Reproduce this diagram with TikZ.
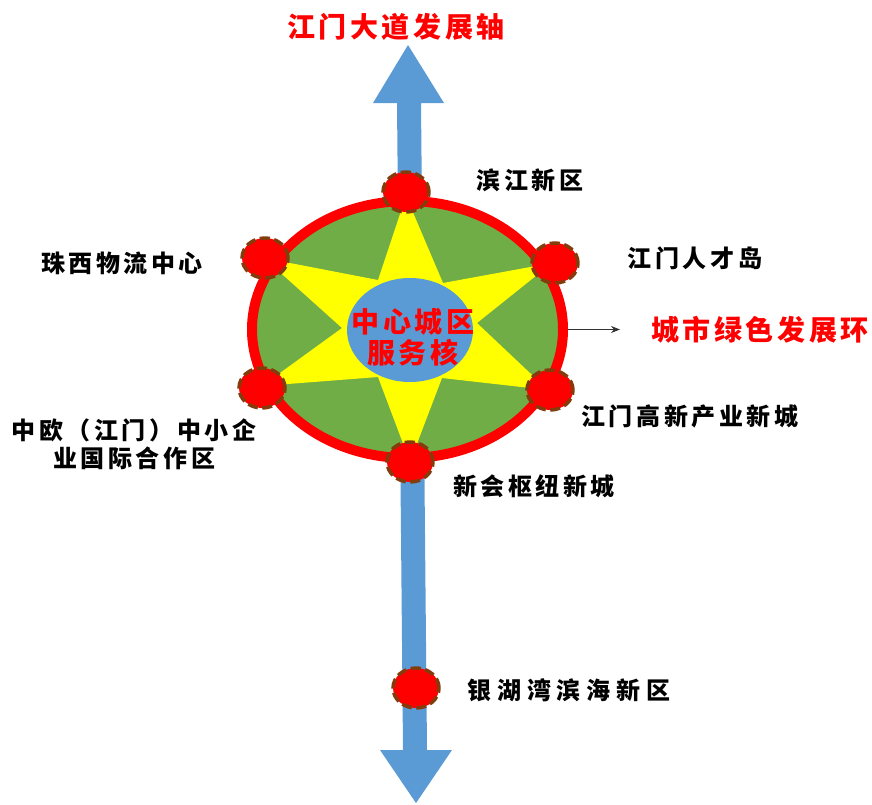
\documentclass[tikz,border=0pt]{standalone}
\usepackage{fontspec}
\newfontfamily\cjk{Noto Sans CJK SC}
\usetikzlibrary{shapes.geometric,arrows.meta}
\definecolor{axisblue}{HTML}{5B9BD5}
\definecolor{ringgreen}{HTML}{70AD47}
\definecolor{staryellow}{HTML}{FFFF00}
\definecolor{hotred}{HTML}{FF0000}
\definecolor{dashbrown}{HTML}{843C0C}
\tikzset{
  hub/.style={ellipse, minimum width=46pt, minimum height=40pt, inner sep=0pt,
    fill=hotred, draw=dashbrown, line width=3.5pt, dash pattern=on 10pt off 4.5pt},
  blacklabel/.style={font=\cjk\bfseries\fontsize{24}{28}\selectfont\addfontfeature{LetterSpace=15}, text=black, inner sep=0pt, align=center},
  widelabel/.style={font=\cjk\bfseries\fontsize{24}{28}\selectfont\addfontfeature{LetterSpace=24}, text=black, inner sep=0pt, align=center},
  redlabel/.style={font=\cjk\bfseries\fontsize{28}{31}\selectfont\addfontfeature{LetterSpace=13}, text=hotred, inner sep=0pt, align=center}
}
\begin{document}
\begin{tikzpicture}[x=1pt,y=-1pt]
\useasboundingbox (0,0) rectangle (872,804);
% development axis (double arrow)
\fill[axisblue] (408,45) -- (444,103) -- (421,103) -- (427,750) -- (452,750) -- (416,803)
  -- (380,750) -- (403,750) -- (397,103) -- (373,103) -- cycle;
% green disc
\fill[ringgreen] (407.5,329.5) ellipse [x radius=156, y radius=129];
% yellow star
\fill[staryellow] (406,196) -- (443,283) -- (552,263) -- (477,323) -- (548,390) -- (442,378)
  -- (410,462) -- (378,377) -- (262,386) -- (342,328) -- (264,258) -- (378,280) -- cycle;
% red ring
\node[ellipse, draw=hotred, line width=10pt, minimum width=311pt, minimum height=257pt, inner sep=0pt] (ring) at (407.5,329.5) {};
% core
\node[ellipse, fill=axisblue, minimum width=126pt, minimum height=104pt, inner sep=0pt] (core) at (410,330) {};
\node[redlabel, text depth=0pt] (coretext) at (413,336) {中心城区\\服务核};
% hubs
\node[hub] (binjiang) at (406,192) {};
\node[hub] (rencai) at (555,263) {};
\node[hub] (gaoxin) at (550,390) {};
\node[hub] (xinhui) at (410,462) {};
\node[hub] (zhongou) at (262,388) {};
\node[hub] (zhuxi) at (265,258) {};
\node[hub] (yinhu) at (416,688) {};
% labels
\node[redlabel] (axislabel) at (396,27) {江门大道发展轴};
\node[blacklabel] (lbinjiang) at (530,180) {滨江新区};
\node[blacklabel] (lrencai) at (695,258) {江门人才岛};
\node[blacklabel] (lzhuxi) at (122,263) {珠西物流中心};
\node[blacklabel] (lgaoxin) at (690,416) {江门高新产业新城};
\node[blacklabel] (lzhongou) at (134,444) {中欧（江门）中小企\\业国际合作区};
\node[blacklabel] (lxinhui) at (534,486) {新会枢纽新城};
\node[widelabel] (lyinhu) at (569,690) {银湖湾滨海新区};
\node[redlabel] (ringlabel) at (760,330) {城市绿色发展环};
% pointer
\draw[-{Stealth[length=9pt,width=7pt]}, line width=0.8pt, draw=black!80] (ring.east) -- (620,329.5);
\end{tikzpicture}
\end{document}
